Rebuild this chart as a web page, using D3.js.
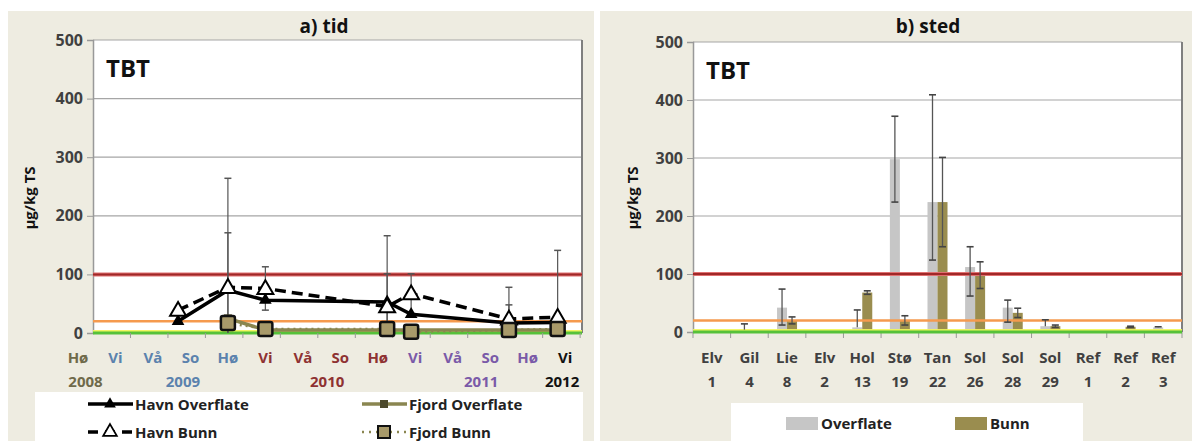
<!DOCTYPE html>
<html><head><meta charset="utf-8">
<script src="https://cdn.jsdelivr.net/npm/d3@7"></script>
<style>
html,body{margin:0;padding:0;background:#fff;}
svg{display:block;font-family:"Open Sans",sans-serif;}
</style></head>
<body><svg id="c" width="1192" height="441"></svg>
<script>
// ---------- DATA ----------
// a) tid  (x in season index: 0 = Hø 2008, 1 = Vi 2009, ...)
const seasonLabels = ["Hø","Vi","Vå","So","Hø","Vi","Vå","So","Hø","Vi","Vå","So","Hø","Vi"];
const seasonYearGroup = [0,1,1,1,1,2,2,2,2,3,3,3,3,4];
const yearLabels = ["2008","2009","2010","2011","2012"];
const havnTime = [2.67, 4.0, 5.0, 8.25, 8.89, 11.5, 12.8];
const havnOverflate = [20, 73, 56, 53, 32, 17, 18];
const havnOverflateErr = [0, 98, 0, 48, 0, 31, 0];
const havnBunn = [39, 78, 76, 45, 67, 24, 27];
const havnBunnErr = [0, 186, 37, 121, 34, 54, 114];
const fjordTime = [4.0, 5.0, 8.25, 8.89, 11.5, 12.8];
const fjordOverflate = [25, 5, 5, 5, 5, 5];
const fjordBunn = [17, 7, 7, 2, 5, 7];
// b) sted
const siteNames = ["Elv","Gil","Lie","Elv","Hol","Stø","Tan","Sol","Sol","Sol","Ref","Ref","Ref"];
const siteNumbers = ["1","4","8","2","13","19","22","26","28","29","1","2","3"];
const overflate = [0, 4, 42, 0, 8, 298, 224, 112, 42, 10, 0, 0, 8];
const overflateErrUp = [0, 10, 32, 0, 30, 74, 185, 35, 13, 11, 0, 0, 1];
const overflateErrDown = [0, 0, 30, 0, 0, 74, 100, 50, 25, 0, 0, 0, 0];
const bunn = [0, 0, 20, 0, 68, 20, 224, 98, 33, 10, 0, 9, 0];
const bunnErr = [0, 0, 6, 0, 3, 8, 77, 23, 8, 2, 0, 1, 0];
const yTicks = [0, 100, 200, 300, 400, 500];
const thresholds = {red: 100, orange: 20, yellow: 5};

// ---------- LAYOUT ----------
const svg = d3.select("#c");
const BG = "#eeece1";
const FONT = "'Open Sans', sans-serif";
const TXT = "#404040";

svg.append("rect").attr("x",8).attr("y",11).attr("width",586).attr("height",430).attr("fill",BG);
svg.append("rect").attr("x",600).attr("y",11).attr("width",592).attr("height",430).attr("fill",BG);

function drawFrame(g, x0, x1, y, title, titleX, ylabX){
  g.append("rect").attr("x",x0).attr("y",y(500)).attr("width",x1-x0).attr("height",y(0)-y(500)).attr("fill","#fff");
  g.selectAll(null).data(yTicks.filter(d=>d>0)).enter().append("line")
    .attr("x1",x0).attr("x2",x1).attr("y1",d=>y(d)).attr("y2",d=>y(d))
    .attr("stroke","#a6a6a6").attr("stroke-width",1.2);
  const ax = g.append("g").attr("transform",`translate(${x0},0)`)
    .call(d3.axisLeft(y).tickValues(yTicks).tickSize(6).tickPadding(4));
  ax.select(".domain").attr("stroke","#999").attr("stroke-width",1.5);
  ax.selectAll(".tick line").attr("stroke","#999");
  ax.selectAll("text").attr("font-family",FONT).attr("font-weight","bold").attr("font-size",16).attr("fill",TXT);
  g.append("line").attr("x1",x1).attr("x2",x1).attr("y1",y(500)).attr("y2",y(0)).attr("stroke","#7f7f7f").attr("stroke-width",2);
  g.append("text").attr("x",titleX).attr("y",33).attr("text-anchor","middle")
    .attr("font-family",FONT).attr("font-weight","bold").attr("font-size",19).attr("fill","#111").text(title);
  g.append("text").attr("x",x0+13).attr("y",y(500)+37).attr("font-family",FONT).attr("font-weight","bold")
    .attr("font-size",24).attr("fill","#111").text("TBT");
  g.append("text").attr("transform",`translate(${ylabX},198) rotate(-90)`)
    .attr("text-anchor","middle").attr("font-family",FONT).attr("font-weight","bold").attr("font-size",15)
    .attr("fill","#111").text("µg/kg TS");
}

function drawThresholds(g, x0, x1, y){
  g.append("rect").attr("x",x0).attr("width",x1-x0).attr("y",y(thresholds.yellow)).attr("height",y(0)-y(thresholds.yellow))
    .attr("fill","#f0f55a");
  g.append("line").attr("x1",x0).attr("x2",x1).attr("y1",y(0)).attr("y2",y(0)).attr("stroke","#56c13a").attr("stroke-width",3);
  g.append("line").attr("x1",x0).attr("x2",x1).attr("y1",y(thresholds.orange)).attr("y2",y(thresholds.orange))
    .attr("stroke","#f59a4e").attr("stroke-width",2.5);
  g.append("line").attr("x1",x0).attr("x2",x1).attr("y1",y(thresholds.red)).attr("y2",y(thresholds.red))
    .attr("stroke","#e07070").attr("stroke-width",4);
  g.append("line").attr("x1",x0).attr("x2",x1).attr("y1",y(thresholds.red)).attr("y2",y(thresholds.red))
    .attr("stroke","#a02828").attr("stroke-width",2);
}

// ---------- a) tid ----------
const gL = svg.append("g");
const L0 = 93, L1 = 582;
const yL = d3.scaleLinear().domain([0,500]).range([333,40]);
const xL = d3.scaleLinear().domain([0.4,13.45]).range([L0,L1]);
drawFrame(gL, L0, L1, yL, "a) tid", 324, 35);
drawThresholds(gL, L0, L1, yL);
gL.selectAll(null).data(d3.range(0,13)).enter().append("line")
  .attr("x1",d=>xL(d+1.4)).attr("x2",d=>xL(d+1.4)).attr("y1",yL(0)).attr("y2",yL(0)+5)
  .attr("stroke","#999");

const yearColors = ["#6f6a4a","#5b82ad","#8e3232","#7a5aa8","#111"];
gL.selectAll(null).data(seasonLabels).enter().append("text")
  .attr("x",(d,i)=>xL(i)).attr("y",363).attr("text-anchor","middle")
  .attr("font-family",FONT).attr("font-weight","bold").attr("font-size",15)
  .attr("fill",(d,i)=>yearColors[seasonYearGroup[i]]).text(d=>d);
const yearPos = [0.2, 2.8, 6.65, 10.76, 12.92];
gL.selectAll(null).data(yearLabels).enter().append("text")
  .attr("x",(d,i)=>xL(yearPos[i])).attr("y",387).attr("text-anchor","middle")
  .attr("font-family",FONT).attr("font-weight","bold").attr("font-size",15)
  .attr("fill",(d,i)=>yearColors[i]).text(d=>d);

svg.append("clipPath").attr("id","clipL").append("rect").attr("x",L0).attr("y",yL(500)).attr("width",L1-L0).attr("height",yL(0)-yL(500));
const gData = gL.append("g").attr("clip-path","url(#clipL)");
function errBars(g, xs, vals, errs, xsc, ysc){
  xs.forEach((t,i)=>{
    if(!errs[i]) return;
    const x = xsc(t), yt = ysc(vals[i]+errs[i]), yb = ysc(Math.max(0, vals[i]-errs[i]));
    g.append("line").attr("x1",x).attr("x2",x).attr("y1",yt).attr("y2",yb).attr("stroke","#555").attr("stroke-width",1.2);
    g.append("line").attr("x1",x-3.5).attr("x2",x+3.5).attr("y1",yt).attr("y2",yt).attr("stroke","#555").attr("stroke-width",1.5);
    if(vals[i]-errs[i]>0) g.append("line").attr("x1",x-3.5).attr("x2",x+3.5).attr("y1",yb).attr("y2",yb).attr("stroke","#555").attr("stroke-width",1.5);
  });
}
errBars(gData, havnTime, havnOverflate, havnOverflateErr, xL, yL);
errBars(gData, havnTime, havnBunn, havnBunnErr, xL, yL);

const line = (xs, vs) => d3.line().x((d,i)=>xL(xs[i])).y(d=>yL(d))(vs);
gL.append("path").attr("d",line(fjordTime,fjordOverflate)).attr("fill","none").attr("stroke","#8a8650").attr("stroke-width",3.5);
gL.selectAll(null).data(fjordOverflate).enter().append("rect")
  .attr("x",(d,i)=>xL(fjordTime[i])-4).attr("y",d=>yL(d)-4).attr("width",8).attr("height",8).attr("fill","#4d4a2c");
gL.append("path").attr("d",line(fjordTime,fjordBunn)).attr("fill","none").attr("stroke","#8a8650").attr("stroke-width",2.5).attr("stroke-dasharray","2,4");
gL.append("path").attr("d",line(havnTime,havnOverflate)).attr("fill","none").attr("stroke","#000").attr("stroke-width",3.5);
const tri = d3.symbol().type(d3.symbolTriangle);
gL.selectAll(null).data(havnOverflate).enter().append("path")
  .attr("d",tri.size(70)()).attr("transform",(d,i)=>`translate(${xL(havnTime[i])},${yL(d)})`).attr("fill","#000");
gL.append("path").attr("d",line(havnTime,havnBunn)).attr("fill","none").attr("stroke","#000").attr("stroke-width",3.5).attr("stroke-dasharray","11,6");
gL.selectAll(null).data(havnBunn).enter().append("path")
  .attr("d",d3.symbol().type(d3.symbolTriangle).size(110)()).attr("transform",(d,i)=>`translate(${xL(havnTime[i])},${yL(d)+1})`)
  .attr("fill","#fff").attr("stroke","#000").attr("stroke-width",2);
gL.selectAll(null).data(fjordBunn).enter().append("rect")
  .attr("x",(d,i)=>xL(fjordTime[i])-7).attr("y",d=>yL(d)-7).attr("width",14).attr("height",14).attr("rx",2)
  .attr("fill","#a89a6a").attr("stroke","#111").attr("stroke-width",2.5);

// legend left
const lgL = svg.append("g");
lgL.append("rect").attr("x",35).attr("y",392).attr("width",548).attr("height",60).attr("fill","#fff");
function legLine(g,x,y,opts,label){
  g.append("line").attr("x1",x).attr("x2",x+45).attr("y1",y).attr("y2",y).attr("stroke",opts.stroke).attr("stroke-width",opts.w)
    .attr("stroke-dasharray",opts.dash||null);
  opts.marker(g, x+22, y);
  g.append("text").attr("x",x+47).attr("y",y+5.5).attr("font-family",FONT).attr("font-weight","bold").attr("font-size",15)
    .attr("fill","#222").text(label);
}
legLine(lgL, 88, 404, {stroke:"#000", w:3.5, marker:(g,x,y)=>g.append("path").attr("d",tri.size(60)()).attr("transform",`translate(${x},${y})`).attr("fill","#000")}, "Havn Overflate");
legLine(lgL, 88, 432, {stroke:"#000", w:3.5, dash:"10,7", marker:(g,x,y)=>g.append("path").attr("d",d3.symbol().type(d3.symbolTriangle).size(80)()).attr("transform",`translate(${x},${y})`).attr("fill","#fff").attr("stroke","#000").attr("stroke-width",1.8)}, "Havn Bunn");
legLine(lgL, 362, 404, {stroke:"#8a8650", w:3.5, marker:(g,x,y)=>g.append("rect").attr("x",x-4).attr("y",y-4).attr("width",8).attr("height",8).attr("fill","#4d4a2c")}, "Fjord Overflate");
legLine(lgL, 362, 432, {stroke:"#8a8650", w:2.5, dash:"2,5", marker:(g,x,y)=>g.append("rect").attr("x",x-6).attr("y",y-6).attr("width",12).attr("height",12).attr("fill","#a89a6a").attr("stroke","#111").attr("stroke-width",2)}, "Fjord Bunn");

// ---------- b) sted ----------
const gR = svg.append("g");
const R0 = 693, R1 = 1182;
const yR = d3.scaleLinear().domain([0,500]).range([332,42]);
drawFrame(gR, R0, R1, yR, "b) sted", 928, 638);
const xR = d3.scaleBand().domain(d3.range(siteNames.length)).range([R0,R1]);
const xS = d3.scaleBand().domain(["Overflate","Bunn"]).range([0,20]);
const off = (xR.bandwidth()-20)/2;
gR.selectAll(null).data(d3.range(siteNames.length+1)).enter().append("line")
  .attr("x1",d=>R0+d*xR.bandwidth()).attr("x2",d=>R0+d*xR.bandwidth()).attr("y1",yR(0)).attr("y2",yR(0)+6).attr("stroke","#999");
const series = [
  {key:"Overflate", vals:overflate, up:overflateErrUp, down:overflateErrDown, fill:"#c6c6c6"},
  {key:"Bunn", vals:bunn, up:bunnErr, down:bunnErr, fill:"#9a8d4f"}
];
series.forEach(s=>{
  gR.selectAll(null).data(s.vals).enter().append("rect")
    .attr("x",(d,i)=>xR(i)+off+xS(s.key)).attr("width",xS.bandwidth())
    .attr("y",d=>yR(d)).attr("height",d=>yR(0)-yR(d)).attr("fill",s.fill);
});
drawThresholds(gR, R0, R1, yR);
series.forEach(s=>{
  s.vals.forEach((v,i)=>{
    if(!s.up[i]) return;
    const x = xR(i)+off+xS(s.key)+xS.bandwidth()/2;
    const yt = yR(v+s.up[i]), yb = yR(Math.max(0,v-s.down[i]));
    gR.append("line").attr("x1",x).attr("x2",x).attr("y1",yt).attr("y2",yb).attr("stroke","#555").attr("stroke-width",1.3);
    gR.append("line").attr("x1",x-3.5).attr("x2",x+3.5).attr("y1",yt).attr("y2",yt).attr("stroke","#444").attr("stroke-width",1.6);
    if(s.down[i]) gR.append("line").attr("x1",x-3.5).attr("x2",x+3.5).attr("y1",yb).attr("y2",yb).attr("stroke","#444").attr("stroke-width",1.6);
  });
});
gR.selectAll(null).data(siteNames).enter().append("text")
  .attr("x",(d,i)=>xR(i)+xR.bandwidth()/2).attr("y",363).attr("text-anchor","middle")
  .attr("font-family",FONT).attr("font-weight","bold").attr("font-size",15).attr("fill",TXT).text(d=>d);
gR.selectAll(null).data(siteNumbers).enter().append("text")
  .attr("x",(d,i)=>xR(i)+xR.bandwidth()/2).attr("y",387).attr("text-anchor","middle")
  .attr("font-family",FONT).attr("font-weight","bold").attr("font-size",15).attr("fill",TXT).text(d=>d);

// legend right
const lgR = svg.append("g");
lgR.append("rect").attr("x",731).attr("y",403).attr("width",352).attr("height",50).attr("fill","#fff");
[["Overflate","#c6c6c6",786],["Bunn","#9a8d4f",955]].forEach(([t,c,x])=>{
  lgR.append("rect").attr("x",x).attr("y",417).attr("width",32).attr("height",13).attr("fill",c);
  lgR.append("text").attr("x",x+35).attr("y",429).attr("font-family",FONT).attr("font-weight","bold").attr("font-size",15).attr("fill","#222").text(t);
});
</script></body></html>
